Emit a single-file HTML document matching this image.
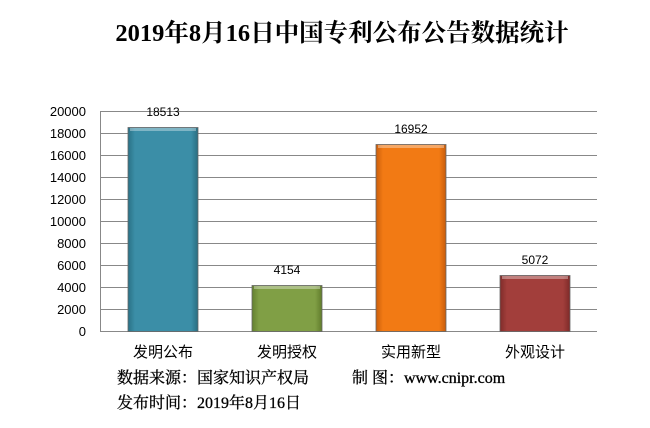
<!DOCTYPE html>
<html><head><meta charset="utf-8"><style>
body{margin:0;background:#fff;}
svg{display:block}
</style></head><body>
<svg width="650" height="428" xmlns="http://www.w3.org/2000/svg">
<defs>
<linearGradient id="g1" x1="0" x2="1"><stop offset="0" stop-color="#2a7186"/><stop offset="0.1" stop-color="#3b8ea7"/><stop offset="0.9" stop-color="#3b8ea7"/><stop offset="1" stop-color="#2a6d80"/></linearGradient>
<linearGradient id="g2" x1="0" x2="1"><stop offset="0" stop-color="#63802f"/><stop offset="0.1" stop-color="#809f45"/><stop offset="0.9" stop-color="#809f45"/><stop offset="1" stop-color="#617c2c"/></linearGradient>
<linearGradient id="g3" x1="0" x2="1"><stop offset="0" stop-color="#c95e0c"/><stop offset="0.1" stop-color="#f27a14"/><stop offset="0.9" stop-color="#f27a14"/><stop offset="1" stop-color="#c75c0b"/></linearGradient>
<linearGradient id="g4" x1="0" x2="1"><stop offset="0" stop-color="#7f2c2a"/><stop offset="0.1" stop-color="#a23e3b"/><stop offset="0.9" stop-color="#a23e3b"/><stop offset="1" stop-color="#7d2a28"/></linearGradient>
</defs>
<text x="342" y="41" text-anchor="middle" font-family="Liberation Serif, Noto Serif CJK SC, serif" font-weight="bold" font-size="24.5">2019年8月16日中国专利公布公告数据统计</text>
<g stroke="#888" stroke-width="1">
<line x1="100" y1="111.5" x2="597" y2="111.5"/><line x1="100" y1="133.5" x2="597" y2="133.5"/><line x1="100" y1="155.5" x2="597" y2="155.5"/><line x1="100" y1="177.5" x2="597" y2="177.5"/><line x1="100" y1="199.5" x2="597" y2="199.5"/><line x1="100" y1="221.5" x2="597" y2="221.5"/><line x1="100" y1="243.5" x2="597" y2="243.5"/><line x1="100" y1="265.5" x2="597" y2="265.5"/><line x1="100" y1="287.5" x2="597" y2="287.5"/><line x1="100" y1="309.5" x2="597" y2="309.5"/><line x1="100" y1="331.5" x2="597" y2="331.5"/><line x1="100.5" y1="111" x2="100.5" y2="332"/>
</g>
<g font-family="Liberation Sans, sans-serif" font-size="13" text-anchor="end" fill="#000">
<text x="86" y="116">20000</text><text x="86" y="138">18000</text><text x="86" y="160">16000</text><text x="86" y="182">14000</text><text x="86" y="204">12000</text><text x="86" y="226">10000</text><text x="86" y="248">8000</text><text x="86" y="270">6000</text><text x="86" y="292">4000</text><text x="86" y="314">2000</text><text x="86" y="336">0</text>
</g>
<g stroke="#666" stroke-width="0.8">
<rect x="128" y="127.5" width="70" height="204" fill="url(#g1)"/>
<rect x="252" y="285.5" width="70" height="46" fill="url(#g2)"/>
<rect x="376" y="144.5" width="70" height="187" fill="url(#g3)"/>
<rect x="500" y="275.5" width="70" height="56" fill="url(#g4)"/>
</g>
<g fill="#fff" opacity="0.35"><rect x="130" y="128" width="66" height="3"/><rect x="254" y="286" width="66" height="3"/><rect x="378" y="145" width="66" height="3"/><rect x="502" y="276" width="66" height="3"/></g>
<g font-family="Liberation Sans, sans-serif" font-size="12" text-anchor="middle">
<text x="163" y="116">18513</text><text x="287" y="274">4154</text><text x="411" y="133">16952</text><text x="535" y="264">5072</text>
</g>
<g font-family="Liberation Sans, Noto Sans CJK SC, sans-serif" font-size="15" text-anchor="middle">
<text x="163" y="357">发明公布</text><text x="287" y="357">发明授权</text><text x="411" y="357">实用新型</text><text x="535" y="357">外观设计</text>
</g>
<g font-family="Liberation Serif, Noto Serif CJK SC, serif" font-size="16" stroke="#000" stroke-width="0.3">
<text x="117" y="383">数据来源：国家知识产权局</text>
<text x="352" y="383">制 图：www.cnipr.com</text>
<text x="117" y="408">发布时间：2019年8月16日</text>
</g>
</svg>
</body></html>
